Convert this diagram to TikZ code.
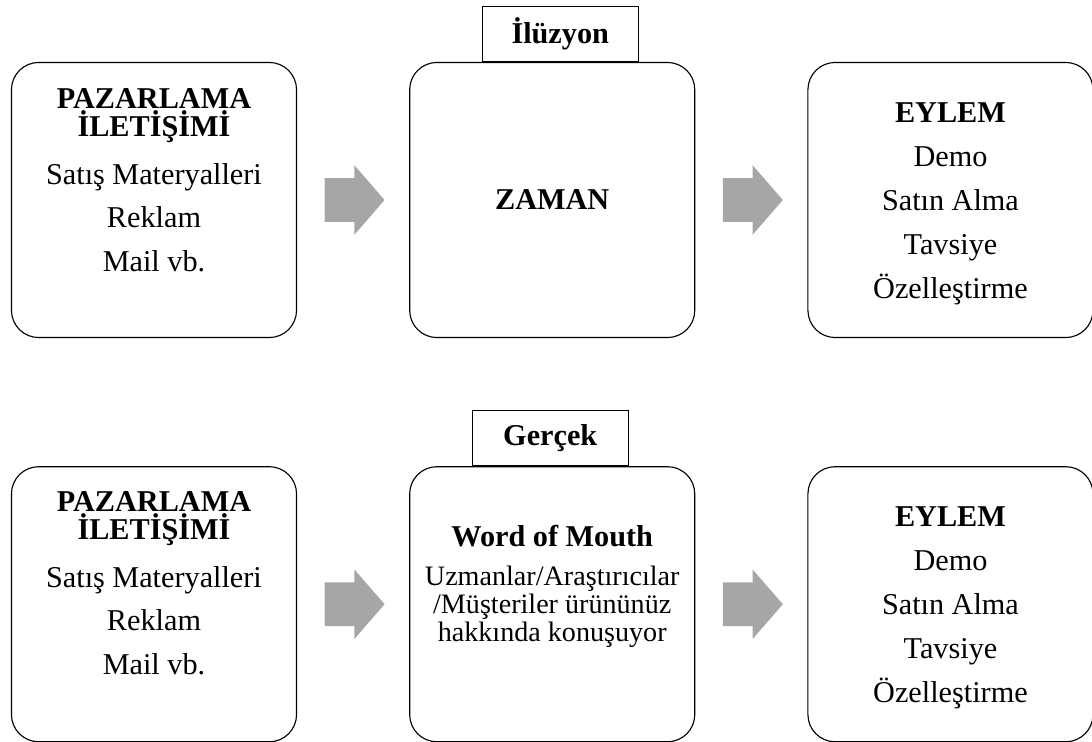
\documentclass[tikz,border=0pt]{standalone}
\usepackage{fontspec}
\setmainfont{Liberation Serif}
\usepackage{xcolor}
\usepackage{tikz}
\usetikzlibrary{shapes.arrows, positioning, calc}
\definecolor{arrowgray}{RGB}{166,166,166}

\begin{document}
\begin{tikzpicture}[
    x=0.025cm, y=-0.025cm,
    node distance=2.8cm,
    % Styles
    stage/.style={rectangle, rounded corners=0.68cm, draw=black, line width=0.8pt, minimum width=7.125cm, minimum height=6.875cm},
    tag/.style={rectangle, draw=black, line width=0.8pt, minimum width=3.9cm, minimum height=1.38cm, font=\fontsize{21.5}{20}\selectfont\bfseries},
    body/.style={align=center, font={\fontsize{21.5}{20}\selectfont\lineskiplimit=-20pt}},
    flow/.style={single arrow, fill=arrowgray, draw=none, inner xsep=0pt, inner ysep=0.5375cm, single arrow head extend=0.325cm, single arrow tip angle=98, minimum height=1.5cm, xshift=-0.2cm}
]
    \useasboundingbox (0,0) rectangle (1092,742);

    % Top row: illusion
    \node[stage] (ilA) at (154,200) {};
    \node[stage, right=of ilA] (ilB) {};
    \node[stage, right=of ilB] (ilC) {};

    \node[tag, above=0pt of ilB.north, xshift=0.2cm] (illusion) {İlüzyon};

    \node[body, yshift=0.5cm] (ilAtext) at (ilA.center) {\textbf{PAZARLAMA}\\\textbf{İLETİŞİMİ}\\[14pt]
    Satış Materyalleri\\[11pt]
    Reklam\\[11pt]
    Mail vb.};
    \node[body] (ilBtext) at (ilB.center) {\textbf{ZAMAN}};
    \node[body, yshift=-0.1cm] (ilCtext) at (ilC.center) {\textbf{EYLEM}\\[11.3pt]
    Demo\\[11.3pt]
    Satın Alma\\[11.3pt]
    Tavsiye\\[11.3pt]
    Özelleştirme};

    \node[flow] (ilAB) at ($(ilA.east)!0.5!(ilB.west)$) {};
    \node[flow] (ilBC) at ($(ilB.east)!0.5!(ilC.west)$) {};

    % Bottom row: reality
    \node[stage, below=3.2cm of ilA] (reA) {};
    \node[stage, right=of reA] (reB) {};
    \node[stage, right=of reB] (reC) {};

    \node[tag, above=0pt of reB.north, xshift=-0.05cm] (reality) {Gerçek};

    \node[body, yshift=0.525cm] (reAtext) at (reA.center) {\textbf{PAZARLAMA}\\\textbf{İLETİŞİMİ}\\[14pt]
    Satış Materyalleri\\[11pt]
    Reklam\\[11pt]
    Mail vb.};
    \node[body, yshift=0.45cm] (reBtext) at (reB.center) {\textbf{Word of Mouth}\\[7.7pt]
    \fontsize{20}{20}\selectfont Uzmanlar/Araştırıcılar\\
    \fontsize{20}{20}\selectfont /Müşteriler ürününüz\\
    \fontsize{20}{20}\selectfont hakkında konuşuyor};
    \node[body, yshift=-0.1cm] (reCtext) at (reC.center) {\textbf{EYLEM}\\[11.3pt]
    Demo\\[11.3pt]
    Satın Alma\\[11.3pt]
    Tavsiye\\[11.3pt]
    Özelleştirme};

    \node[flow] (reAB) at ($(reA.east)!0.5!(reB.west)$) {};
    \node[flow] (reBC) at ($(reB.east)!0.5!(reC.west)$) {};
\end{tikzpicture}
\end{document}
